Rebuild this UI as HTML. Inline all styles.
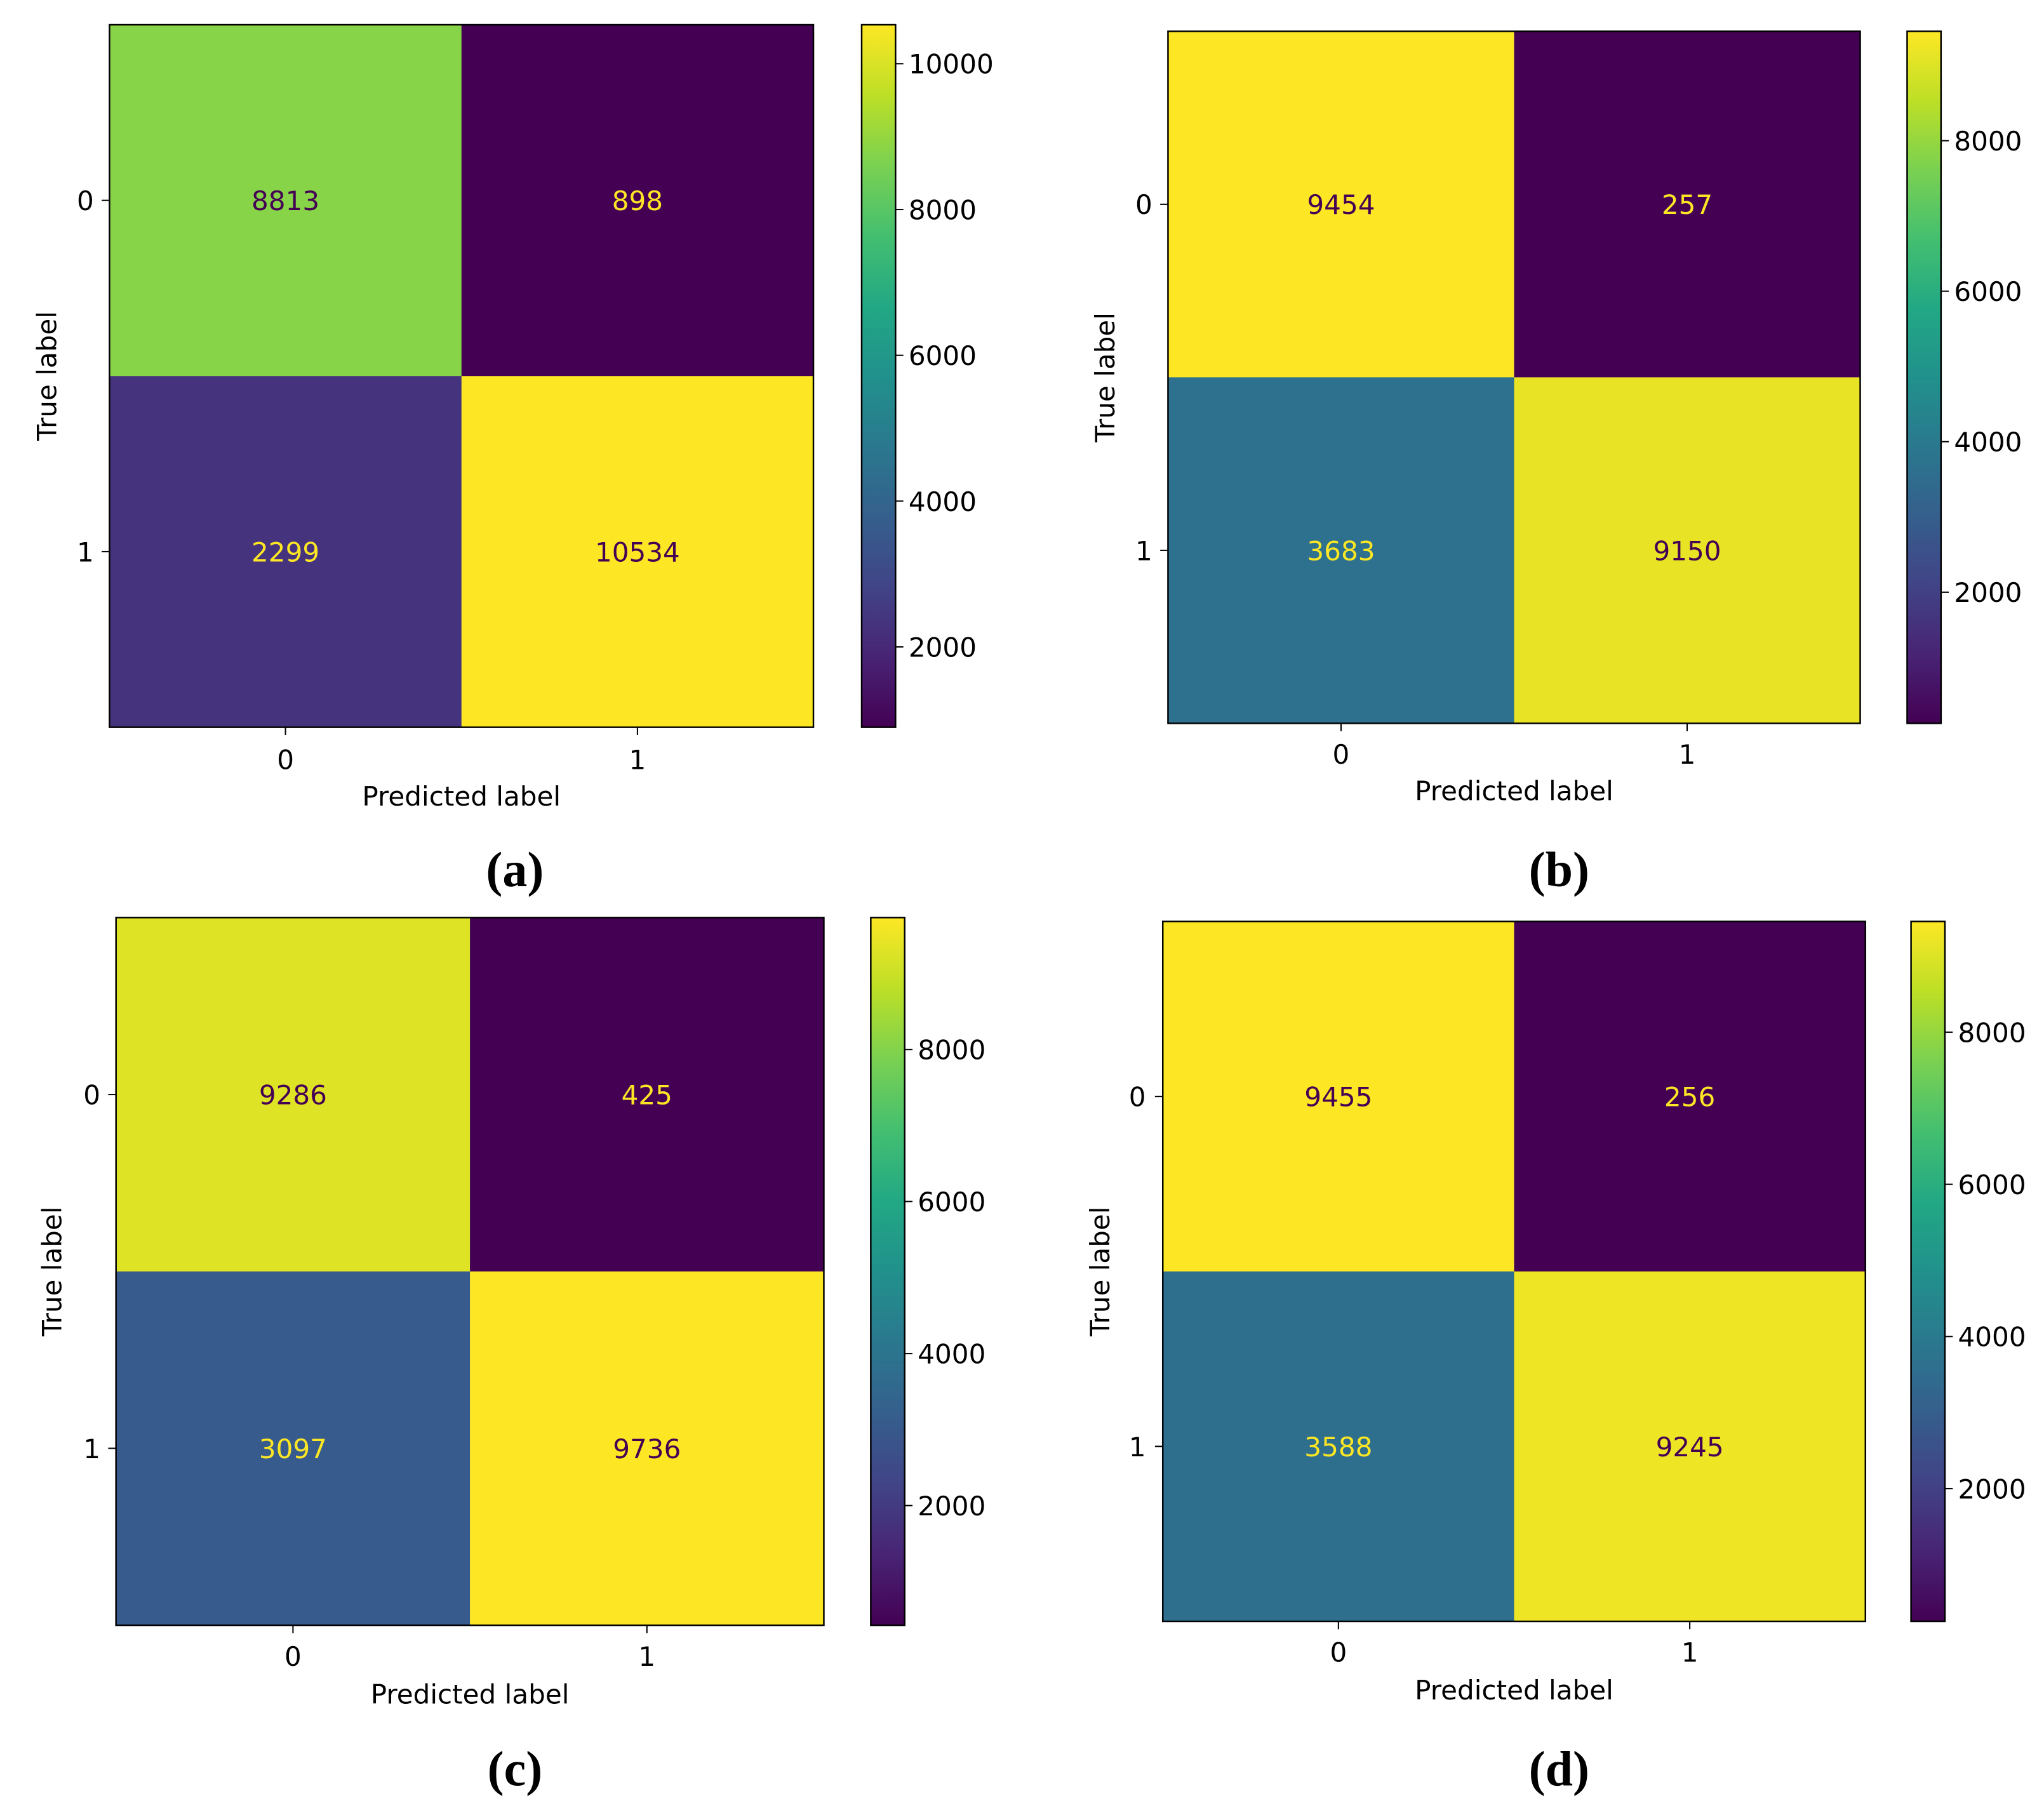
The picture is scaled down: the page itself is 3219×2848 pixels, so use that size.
<!DOCTYPE html>
<html><head><meta charset="utf-8"><style>
html,body{margin:0;padding:0;background:#fff;}
svg{display:block;}
text{font-family:"DejaVu Sans","Liberation Sans",sans-serif;}
.cap{font-family:"Liberation Serif",serif;font-weight:bold;}
</style></head><body>
<svg id="fig" xmlns="http://www.w3.org/2000/svg" width="3219" height="2848" viewBox="0 0 1568 1387.2" preserveAspectRatio="none">
<defs>
<linearGradient id="vir" x1="0" y1="1" x2="0" y2="0">
<stop offset="0" stop-color="#440154"/><stop offset="0.1" stop-color="#482475"/><stop offset="0.2" stop-color="#414487"/><stop offset="0.3" stop-color="#355f8d"/><stop offset="0.4" stop-color="#2a788e"/><stop offset="0.5" stop-color="#21918c"/><stop offset="0.6" stop-color="#22a884"/><stop offset="0.7" stop-color="#44bf70"/><stop offset="0.8" stop-color="#7ad151"/><stop offset="0.9" stop-color="#bddf26"/><stop offset="1" stop-color="#fde725"/>
</linearGradient>
</defs>
</svg>
<script>
// Chart data
const classLabels = ["0", "1"];
const matrixA = [[8813, 898], [2299, 10534]];
const matrixB = [[9454, 257], [3683, 9150]];
const matrixC = [[9286, 425], [3097, 9736]];
const matrixD = [[9455, 256], [3588, 9245]];
const colorbarTicks = [2000, 4000, 6000, 8000, 10000];
const panelCaptions = ["(a)", "(b)", "(c)", "(d)"];

const NS = "http://www.w3.org/2000/svg";
const svg = document.getElementById("fig");
const FS = 20.5;
const stops = [[68,1,84],[72,36,117],[65,68,135],[53,95,141],[42,120,142],[33,145,140],[34,168,132],[68,191,112],[122,209,81],[189,223,38],[253,231,37]];
function viridis(t){
  t = Math.max(0, Math.min(1, t));
  const p = t * 10, i = Math.min(9, Math.floor(p)), f = p - i;
  const c = stops[i].map((v, k) => Math.round(v + (stops[i+1][k] - v) * f));
  return "rgb(" + c.join(",") + ")";
}
function el(tag, attrs, parent){
  const e = document.createElementNS(NS, tag);
  for (const k in attrs) e.setAttribute(k, attrs[k]);
  (parent || svg).appendChild(e);
  return e;
}
const layouts = [
  {m: matrixA, x0: 84, x1: 624, y0: 19, y1: 558, cbx: 661, ytx: 72, xty: 590, xl: 618, tl: 36, cx: 395, cy: 680, name: "a"},
  {m: matrixB, x0: 896, x1: 1427, y0: 24, y1: 555, cbx: 1463, ytx: 884, xty: 586, xl: 614, tl: 848, cx: 1196, cy: 680, name: "b"},
  {m: matrixC, x0: 89, x1: 632, y0: 704, y1: 1247, cbx: 668, ytx: 77, xty: 1278, xl: 1307, tl: 40, cx: 395, cy: 1370, name: "c"},
  {m: matrixD, x0: 892, x1: 1431, y0: 707, y1: 1244, cbx: 1466, ytx: 879, xty: 1275, xl: 1304, tl: 844, cx: 1196, cy: 1370, name: "d"}
];
layouts.forEach((L, pi) => {
  const g = el("g", {});
  
  
  const flat = L.m.flat();
  const vmin = Math.min(...flat), vmax = Math.max(...flat);
  const norm = v => (v - vmin) / (vmax - vmin);
  const n = classLabels.length;
  const cw = (L.x1 - L.x0) / n, ch = (L.y1 - L.y0) / n;
  const xPos = j => L.x0 + cw * (j + 0.5);
  const yPos = i => L.y0 + ch * (i + 0.5);
  const mid = (vmin + vmax) / 2;
  for (let i = 0; i < n; i++) for (let j = 0; j < n; j++) {
    const v = L.m[i][j];
    const r = el("rect", {x: L.x0 + cw * j, y: L.y0 + ch * i, width: cw + 0.3, height: ch + 0.3, fill: viridis(norm(v))}, g);
    
    
    const t = el("text", {x: xPos(j), y: yPos(i) + 7.5, "text-anchor": "middle", "font-size": FS, fill: v < mid ? "#fde725" : "#440154"}, g);
    t.textContent = v;
    
    
  }
  const fr = el("rect", {x: L.x0, y: L.y0, width: L.x1 - L.x0, height: L.y1 - L.y0, fill: "none", stroke: "#000", "stroke-width": 1.2}, g);
  
  
  classLabels.forEach((lab, k) => {
    el("line", {x1: L.x0, x2: L.x0 - 6, y1: yPos(k), y2: yPos(k), stroke: "#000", "stroke-width": 1}, g);
    const yt = el("text", {x: L.ytx, y: yPos(k) + 7.5, "text-anchor": "end", "font-size": FS, fill: "#000"}, g);
    yt.textContent = lab;
    
    
    el("line", {x1: xPos(k), x2: xPos(k), y1: L.y1, y2: L.y1 + 6, stroke: "#000", "stroke-width": 1}, g);
    const xt = el("text", {x: xPos(k), y: L.xty, "text-anchor": "middle", "font-size": FS, fill: "#000"}, g);
    xt.textContent = lab;
    
    
  });
  const xl = el("text", {x: (L.x0 + L.x1) / 2, y: L.xl, "text-anchor": "middle", "font-size": FS, fill: "#000"}, g);
  xl.textContent = "Predicted label";
  
  
  const ty = (L.y0 + L.y1) / 2;
  const yl = el("text", {x: L.tl, y: ty, "text-anchor": "middle", "font-size": FS, fill: "#000", transform: "rotate(-90 " + L.tl + " " + ty + ") translate(0 7)"}, g);
  yl.textContent = "True label";
  
  
  const cbw = 26;
  const cb = el("rect", {x: L.cbx, y: L.y0, width: cbw, height: L.y1 - L.y0, fill: "url(#vir)", stroke: "#000", "stroke-width": 1.2}, g);
  
  
  const cbY = v => L.y1 - norm(v) * (L.y1 - L.y0);
  colorbarTicks.forEach(tv => {
    if (tv < vmin || tv > vmax) return;
    const y = cbY(tv);
    el("line", {x1: L.cbx + cbw, x2: L.cbx + cbw + 6, y1: y, y2: y, stroke: "#000", "stroke-width": 1}, g);
    const ct = el("text", {x: L.cbx + cbw + 10, y: y + 7.5, "font-size": FS, fill: "#000"}, g);
    ct.textContent = tv;
    
    
  });
  const cap = el("text", {x: L.cx, y: L.cy, "text-anchor": "middle", "font-size": 38, fill: "#000", class: "cap"}, g);
  cap.textContent = panelCaptions[pi];
  
  
});
</script>
</body></html>
